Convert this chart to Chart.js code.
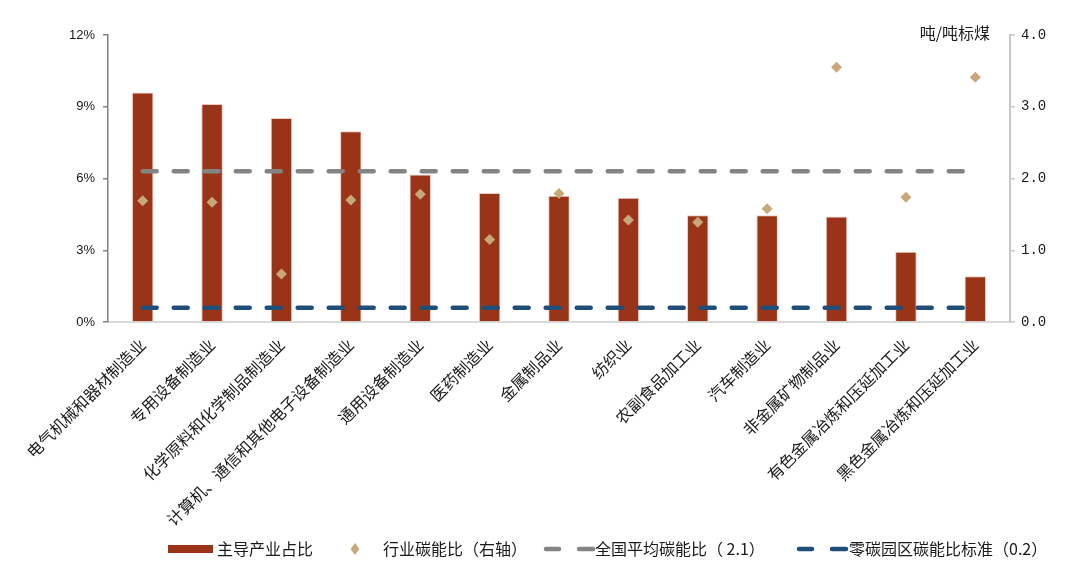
<!DOCTYPE html>
<html>
<head>
<meta charset="utf-8">
<script src="https://cdn.jsdelivr.net/npm/chart.js@4.4.1/dist/chart.umd.min.js"></script>
<style>
  html, body { margin: 0; padding: 0; background: #fff; }
  #wrap { width: 1080px; height: 575px; position: relative; }
</style>
</head>
<body>
<div id="wrap"><canvas id="chart"></canvas></div>
<script>
const industries = [
  '电气机械和器材制造业', '专用设备制造业', '化学原料和化学制品制造业',
  '计算机、通信和其他电子设备制造业', '通用设备制造业', '医药制造业',
  '金属制品业', '纺织业', '农副食品加工业', '汽车制造业',
  '非金属矿物制品业', '有色金属冶炼和压延加工业', '黑色金属冶炼和压延加工业'
];
// 主导产业占比 (%)
const leadShare = [9.60, 9.12, 8.53, 7.98, 6.17, 5.39, 5.28, 5.19, 4.46, 4.46, 4.41, 2.94, 1.91];
// 行业碳能比 (吨/吨标煤, right axis)
const carbonRatio = [1.69, 1.67, 0.67, 1.70, 1.78, 1.15, 1.79, 1.42, 1.39, 1.58, 3.55, 1.74, 3.41];
const nationalAvg = 2.1;
const zeroParkStd = 0.2;
const leftTicks = [0, 3, 6, 9, 12];
const rightTicks = [0, 1, 2, 3, 4];

const cjk = '"Noto Sans CJK SC", "Noto Sans", sans-serif';
const textColor = '#1a1a1a';

// legend drawn by hand so icons look like the office-style original
const legendPlugin = {
  id: 'manualLegend',
  afterDraw(chart) {
    const ctx = chart.ctx;
    const ds = chart.data.datasets;
    const y = 549;
    ctx.save();
    ctx.font = '16px ' + cjk;
    ctx.fillStyle = textColor;
    ctx.textBaseline = 'middle';
    ctx.textAlign = 'left';

    // bar
    ctx.fillStyle = ds[0].backgroundColor;
    ctx.fillRect(168, y - 4, 45, 8);
    ctx.fillStyle = textColor;
    ctx.fillText(ds[0].label, 217, y);

    // diamond
    ctx.fillStyle = ds[1].backgroundColor;
    ctx.beginPath();
    ctx.moveTo(355, y - 6);
    ctx.lineTo(359.5, y);
    ctx.lineTo(355, y + 6);
    ctx.lineTo(350.5, y);
    ctx.closePath();
    ctx.fill();
    ctx.fillStyle = textColor;
    ctx.fillText(ds[1].label, 383, y);

    // dashed lines
    [[ds[2], 544, 595], [ds[3], 797, 849]].forEach(([d, x0, tx]) => {
      ctx.strokeStyle = d.borderColor;
      ctx.lineWidth = 4.5;
      ctx.lineCap = 'round';
      ctx.beginPath();
      ctx.moveTo(x0 + 2, y); ctx.lineTo(x0 + 15, y);
      ctx.moveTo(x0 + 35, y); ctx.lineTo(x0 + 49, y);
      ctx.stroke();
      ctx.fillStyle = textColor;
      ctx.fillText(d.label, tx, y);
    });

    // right axis unit
    ctx.font = '16px ' + cjk;
    ctx.textAlign = 'right';
    ctx.fillText('吨/吨标煤', chart.chartArea.right - 20, chart.chartArea.top - 2);
    ctx.restore();
  }
};

new Chart(document.getElementById('chart'), {
  data: {
    labels: industries,
    datasets: [
      {
        type: 'bar',
        label: '主导产业占比',
        data: leadShare,
        yAxisID: 'y',
        backgroundColor: '#9A3419',
        borderColor: 'rgba(235,200,190,0.9)',
        borderWidth: 1,
        barPercentage: 0.31,
        categoryPercentage: 1,
        order: 4
      },
      {
        type: 'line',
        label: '行业碳能比（右轴）',
        data: carbonRatio,
        yAxisID: 'y1',
        showLine: false,
        pointStyle: 'rectRot',
        pointRadius: 5.5,
        pointHoverRadius: 5.5,
        backgroundColor: '#C8A87A',
        borderColor: '#C8A87A',
        borderWidth: 0,
        order: 1
      },
      {
        type: 'line',
        label: '全国平均碳能比（ 2.1）',
        data: industries.map(() => nationalAvg),
        yAxisID: 'y1',
        borderColor: '#848484',
        borderWidth: 4.5,
        borderDash: [14, 17],
        borderCapStyle: 'round',
        pointRadius: 0,
        order: 2
      },
      {
        type: 'line',
        label: '零碳园区碳能比标准（0.2）',
        data: industries.map(() => zeroParkStd),
        yAxisID: 'y1',
        borderColor: '#1F4E79',
        borderWidth: 4.5,
        borderDash: [14, 17],
        borderCapStyle: 'round',
        pointRadius: 0,
        order: 3
      }
    ]
  },
  options: {
    responsive: true,
    maintainAspectRatio: false,
    animation: false,
    layout: { padding: { top: 35, left: 0, right: 0, bottom: 0 } },
    plugins: {
      legend: { display: false },
      tooltip: { enabled: false }
    },
    scales: {
      x: {
        grid: { display: false },
        border: { display: true, color: '#d9d9d9', width: 2 },
        ticks: {
          color: textColor,
          font: { size: 16, family: cjk },
          maxRotation: 45,
          minRotation: 45,
          autoSkip: false,
          padding: 5
        },
        afterFit(scale) { scale.height = 253; }
      },
      y: {
        position: 'left',
        min: 0,
        max: 12,
        afterBuildTicks(scale) { scale.ticks = leftTicks.map(v => ({ value: v })); },
        grid: { display: true, drawOnChartArea: false, drawTicks: true, tickLength: 5, color: '#808080', lineWidth: 1.5 },
        border: { display: true, color: '#808080', width: 1.5 },
        ticks: {
          color: textColor,
          font: { size: 13, family: '"Liberation Sans", Arial, sans-serif' },
          padding: 8,
          callback: v => v + '%'
        },
        afterFit(scale) { scale.width = 108; }
      },
      y1: {
        position: 'right',
        min: 0,
        max: 4,
        afterBuildTicks(scale) { scale.ticks = rightTicks.map(v => ({ value: v })); },
        grid: { display: true, drawOnChartArea: false, drawTicks: true, tickLength: 5, color: '#c8c8c8', lineWidth: 1.5 },
        border: { display: true, color: '#c8c8c8', width: 2 },
        ticks: {
          color: textColor,
          font: { size: 14, family: '"Liberation Mono", "DejaVu Sans Mono", monospace' },
          padding: 6,
          callback: v => v.toFixed(1)
        },
        afterFit(scale) { scale.width = 70; }
      }
    }
  },
  plugins: [legendPlugin]
});
</script>
</body>
</html>
